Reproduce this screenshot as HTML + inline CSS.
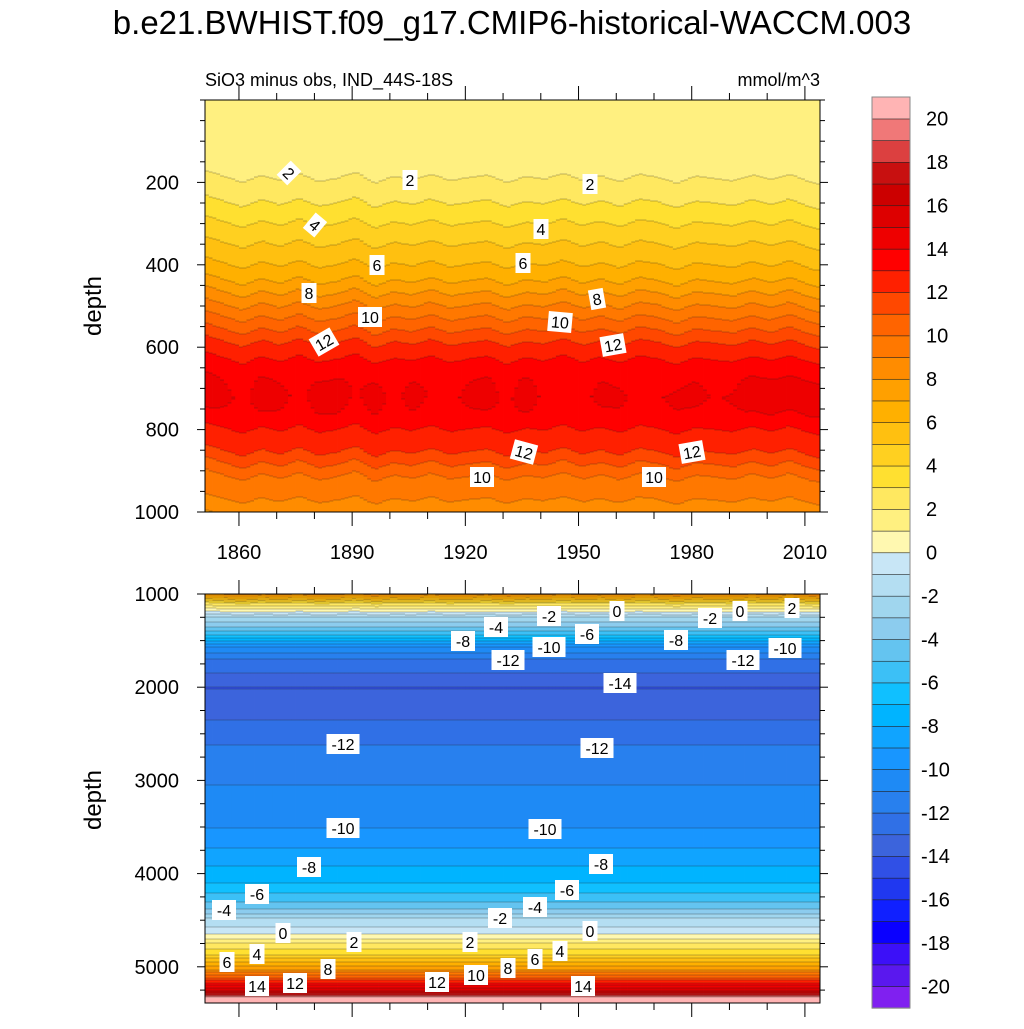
<!DOCTYPE html>
<html><head><meta charset="utf-8">
<style>
body{margin:0;background:#fff;}
svg text{font-family:"Liberation Sans",sans-serif;}
</style></head>
<body>
<svg id="chart" width="1024" height="1024" viewBox="0 0 1024 1024" xmlns="http://www.w3.org/2000/svg">
<text x="512" y="34" font-size="33" text-anchor="middle">b.e21.BWHIST.f09_g17.CMIP6-historical-WACCM.003</text>
<text x="205" y="86" font-size="18">SiO3 minus obs, IND_44S-18S</text>
<text x="820" y="86" font-size="18" text-anchor="end">mmol/m^3</text>
<text transform="translate(101,306) rotate(-90)" font-size="24" text-anchor="middle">depth</text>
<text transform="translate(101,800) rotate(-90)" font-size="24" text-anchor="middle">depth</text>
<g id="fields"></g>
<g id="axes"></g>
<g id="labels"></g>
<g id="cbar"></g>
</svg>
<script>
// ---- data ----
const profileDepths = [0,100,150,190,250,300,350,400,440,470,500,530,560,590,630,680,720,760,800,855,885,915,960,1000,1050,1100,1190,1250,1350,1440,1500,1570,1700,1850,2000,2300,2620,3050,3510,3720,3920,4100,4210,4300,4380,4430,4480,4570,4650,4700,4750,4810,4870,4910,4950,4990,5030,5060,5090,5140,5200,5260,5300,5330,5400];
const profileValues = [1.5,1.6,1.8,2.0,3.0,4.0,5.0,6.0,7.0,8.0,9.0,10.0,11.0,12.0,13.0,13.9,14.05,13.9,13.0,12.0,11.0,10.0,9.2,8.5,6.0,3.0,0,-2,-4,-6,-8,-10,-12,-13,-14.05,-13.2,-12,-11,-10,-9,-8,-7,-6,-5,-4,-3,-2,-1,0,1,2,3,4,5,6,7,8,9,10,12,14,16,18,21,22];
const years5 = [1851,1856,1861,1866,1871,1876,1881,1886,1891,1896,1901,1906,1911,1916,1921,1926,1931,1936,1941,1946,1951,1956,1961,1966,1971,1976,1981,1986,1991,1996,2001,2006,2011,2014];
const depthShift = [20,5,-10,8,-5,12,-8,0,15,-12,5,-3,10,-6,2,8,-10,4,-2,12,-5,6,-8,10,3,-12,5,0,-6,8,-4,10,-8,-15];
const coreAnom = [0.3,0.1,-0.2,0.25,0.1,-0.2,0.2,0.25,-0.1,0.2,-0.2,0.15,-0.1,-0.2,0.1,0.2,-0.2,0.3,-0.2,-0.1,-0.2,0.1,0.05,-0.2,-0.1,0.05,0.1,-0.1,0.0,0.3,0.3,0.2,0.3,0.25];
const tickYears = [1860,1890,1920,1950,1980,2010];
const topDepthTicks = [200,400,600,800,1000];
const botDepthTicks = [1000,2000,3000,4000,5000];
const cbarLabels = [20,18,16,14,12,10,8,6,4,2,0,-2,-4,-6,-8,-10,-12,-14,-16,-18,-20];
const colors = ["#8020F0","#5A18EE","#3C10F8","#0A00FF","#1020FF","#2038F0","#3050E6","#3C64DC","#3070E6","#2880EE","#1E8AF5","#1896FF","#10A4FF","#00B4FF","#10C0FF","#3CC0F6","#64C4F0","#8CCCEE","#A0D6EE","#B4DEF2","#C8E6F6","#FFF8B0","#FFF080","#FFE860","#FFE030","#FFD020","#FFC010","#FFB000","#FFA000","#FF8C00","#FF7800","#FF6400","#FF4800","#FF2000","#FF0000","#EE0000","#DD0000","#CC0000","#C81010","#DC4040","#F07878","#FFB4B4"];
const topLabels = [["2",289,173,45],["2",410,180,0],["2",590,184,0],["4",315,225,40],["4",541,229,0],["6",377,265,0],["6",523,263,0],["8",309,293,0],["8",597,299,-10],["10",370,317,0],["10",560,322,5],["12",324,342,-30],["12",613,345,-10],["12",524,452,15],["12",692,452,-10],["10",482,477,0],["10",654,477,0]];
const botLabels = [["-2",549,616],["0",617,611],["-2",710,618],["0",740,611],["2",792,608],["-4",496,627],["-6",587,634],["-8",463,641],["-10",549,647],["-8",676,640],["-12",508,660],["-12",743,660],["-10",785,648],["-14",620,683],["-12",343,744],["-12",597,748],["-10",343,828],["-10",545,829],["-8",309,867],["-8",601,864],["-6",257,894],["-4",224,910],["-6",567,890],["-4",535,907],["-2",500,918],["0",283,933],["0",590,931],["2",354,942],["2",470,942],["6",227,962],["4",257,954],["4",560,951],["6",535,959],["8",328,969],["8",508,968],["10",476,975],["12",295,983],["12",437,982],["14",257,986],["14",583,986]];

// ---- scales ----
const X0=205,X1=820,T0=1851,T1=2014;
const xS = t => X0+(t-T0)*(X1-X0)/(T1-T0);
const yTop = d => 100+d*0.412;
const yBot = d => 594+(d-1000)*0.0932;
const NS="http://www.w3.org/2000/svg";
function mk(tag,attrs,parent){const e=document.createElementNS(NS,tag);for(const k in attrs)e.setAttribute(k,attrs[k]);parent.appendChild(e);return e;}
function interp(xs,ys,x){if(x<=xs[0])return ys[0];for(let i=1;i<xs.length;i++){if(x<=xs[i]){const f=(x-xs[i-1])/(xs[i]-xs[i-1]);return ys[i-1]+f*(ys[i]-ys[i-1]);}}return ys[ys.length-1];}
function field(t,d){
  const sh=interp(years5,depthShift,t);
  const w = d<900 ? 1 : Math.max(0,1-(d-900)/400);
  let v=interp(profileDepths,profileValues,Math.max(0,d+sh*w));
  const ca=interp(years5,coreAnom,t);
  if(d>620&&d<800) v+=ca*(1-Math.abs(d-710)/90);
  return v;
}
const cidx = v => Math.max(0,Math.min(41,Math.floor(v)+21));

const fields=document.getElementById('fields');
function drawPanel(yTopPx,yBotPx,depthOf,name){
  const g=mk('g',{},fields);
  
  
  const lines=[];
  for(let t=T0;t<T1;t++){
    const xa=xS(t),xb=xS(t+1);
    let start=yTopPx,cur=cidx(field(t+0.5,depthOf(yTopPx+0.5)));
    for(let y=yTopPx+1;y<=yBotPx;y++){
      const c = y<yBotPx ? cidx(field(t+0.5,depthOf(y+0.5))) : -1;
      if(c!==cur){
        const r=mk('rect',{x:xa.toFixed(2),y:start,width:(xb-xa+0.4).toFixed(2),height:y-start,fill:colors[cur]},g);
        
        
        if(c!==-1) lines.push([xa,xb,y]);
        start=y;cur=c;
      }
    }
  }
  const p=lines.map(l=>`M${l[0].toFixed(1)} ${l[2]}H${l[1].toFixed(1)}`).join('');
  const cl=mk('path',{d:p,stroke:'#222',"stroke-width":0.6,"stroke-opacity":0.6,fill:'none'},g);
  
  
}
drawPanel(100,512,y=>(y-100)/0.412,'upper-depth-panel');
drawPanel(594,1003,y=>1000+(y-594)/0.0932,'lower-depth-panel');

// ---- axes ----
const axes=document.getElementById('axes');
function panelAxes(top,bot,yf,ticks,minorStep,dmin,dmax,name,labelBottom){
  const g=mk('g',{stroke:'#000',"stroke-width":1,fill:'none'},axes);
  
  
  mk('rect',{x:X0,y:top,width:X1-X0,height:bot-top},g);
  for(let yr=1860;yr<=2010;yr+=10){
    const x=xS(yr),L=(yr-1860)%30===0?14:7;
    mk('line',{x1:x,y1:top,x2:x,y2:top-L},g);
    mk('line',{x1:x,y1:bot,x2:x,y2:bot+L},g);
  }
  for(let d=Math.ceil(dmin/minorStep)*minorStep;d<=dmax;d+=minorStep){
    const y=yf(d);if(y<top-0.5||y>bot+0.5)continue;
    const major=ticks.includes(d),L=major?8:5;
    mk('line',{x1:X0,y1:y,x2:X0-L,y2:y},g);
    mk('line',{x1:X1,y1:y,x2:X1+L,y2:y},g);
  }
  for(const d of ticks){
    const t=mk('text',{x:X0-26,y:yf(d)+7,"font-size":20,"text-anchor":"end",fill:'#000',stroke:'none'},axes);
    t.textContent=d;
    
    
  }
  if(labelBottom){
    for(const yr of tickYears){
      const t=mk('text',{x:xS(yr),y:bot+47,"font-size":20,"text-anchor":"middle",fill:'#000'},axes);
      t.textContent=yr;
      
      
    }
  }
}
panelAxes(100,512,yTop,topDepthTicks,50,0,1000,'upper-axes',true);
panelAxes(594,1003,yBot,botDepthTicks,250,1000,5400,'lower-axes',false);

// ---- contour labels ----
const lab=document.getElementById('labels');
function addLabel(s,x,y,rot,name){
  const g=mk('g',{transform:`translate(${x},${y}) rotate(${rot})`},lab);
  
  
  const w=s.length*9+6;
  mk('rect',{x:-w/2,y:-10,width:w,height:20,fill:'#fff'},g);
  const t=mk('text',{x:0,y:6,"font-size":16,"text-anchor":"middle"},g);
  t.textContent=s;
}
topLabels.forEach(l=>addLabel(l[0],l[1],l[2],l[3],'contour-label'));
botLabels.forEach(l=>addLabel(l[0],l[1],l[2],0,'contour-label'));

// ---- colorbar ----
const cb=document.getElementById('cbar');
const CB_T=97,CB_H=911/42,CB_X=872,CB_W=38;
for(let i=0;i<42;i++){
  const r=mk('rect',{x:CB_X,y:(CB_T+(41-i)*CB_H).toFixed(2),width:CB_W,height:(CB_H+0.3).toFixed(2),fill:colors[i],stroke:'#222',"stroke-width":0.6},cb);
  
  
}
mk('rect',{x:CB_X,y:CB_T,width:CB_W,height:911,fill:'none',stroke:'#888',"stroke-width":1},cb);
for(const L of cbarLabels){
  const y=CB_T+(21-L)*CB_H;
  const t=mk('text',{x:L<0?921:926,y:y+7,"font-size":20},cb);
  t.textContent=L;
  
  
}
</script>
</body></html>
